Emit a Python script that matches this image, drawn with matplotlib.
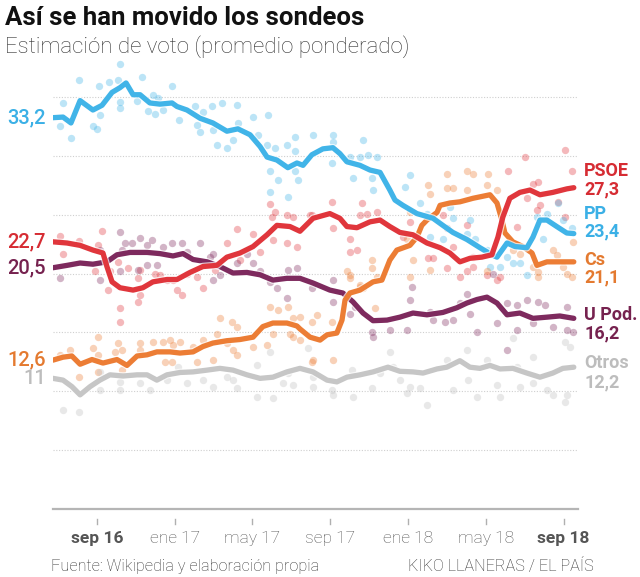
import matplotlib.pyplot as plt
import matplotlib.patheffects as pe

plt.rcParams['font.family'] = ['Roboto', 'DejaVu Sans']

# fechas en años decimales, estimación de voto en %
# promedio ponderado por partido
psoe_media = [(2016.479, 22.7), (2016.539, 22.6), (2016.595, 22.4), (2016.650, 22.0), (2016.693, 21.75),
              (2016.710, 20.6), (2016.732, 19.3), (2016.766, 18.8), (2016.822, 18.6), (2016.864, 18.8),
              (2016.907, 19.3), (2016.967, 19.5), (2017.010, 19.5), (2017.066, 20.1), (2017.121, 20.6),
              (2017.181, 20.7), (2017.224, 21.4), (2017.280, 21.75), (2017.336, 22.3), (2017.396, 23.3),
              (2017.438, 24.1), (2017.494, 24.0), (2017.537, 23.6), (2017.593, 24.7), (2017.665, 25.1),
              (2017.708, 24.7), (2017.738, 24.0), (2017.781, 23.9), (2017.837, 24.4), (2017.880, 24.55),
              (2017.922, 24.0), (2017.965, 23.5), (2018.021, 23.3), (2018.081, 22.6), (2018.137, 22.2),
              (2018.179, 21.75), (2018.222, 21.0), (2018.265, 21.3), (2018.316, 21.4), (2018.359, 21.6),
              (2018.385, 23.1), (2018.406, 24.8), (2018.436, 26.4), (2018.479, 26.9), (2018.522, 27.1),
              (2018.565, 26.7), (2018.620, 26.9), (2018.680, 27.2), (2018.710, 27.3)]

pp_media = [(2016.479, 33.25), (2016.522, 33.3), (2016.556, 32.8), (2016.595, 34.7), (2016.650, 33.9),
            (2016.689, 34.3), (2016.732, 35.4), (2016.766, 35.8), (2016.792, 36.2), (2016.822, 35.2),
            (2016.852, 35.2), (2016.894, 34.5), (2016.937, 34.4), (2016.989, 34.5), (2017.010, 34.2),
            (2017.053, 33.9), (2017.109, 33.2), (2017.164, 32.8), (2017.224, 32.1), (2017.271, 32.3),
            (2017.323, 31.8), (2017.366, 30.8), (2017.396, 29.9), (2017.438, 29.65), (2017.485, 29.0),
            (2017.524, 29.4), (2017.550, 29.2), (2017.588, 30.1), (2017.635, 30.6), (2017.678, 30.7),
            (2017.708, 30.2), (2017.738, 29.5), (2017.794, 29.2), (2017.837, 28.8), (2017.880, 28.6),
            (2017.922, 27.1), (2017.944, 26.25), (2017.978, 25.8), (2018.038, 25.1), (2018.107, 24.7),
            (2018.149, 24.1), (2018.192, 23.5), (2018.252, 22.9), (2018.308, 22.2), (2018.359, 21.6),
            (2018.381, 21.4), (2018.424, 22.6), (2018.458, 22.3), (2018.509, 22.2), (2018.535, 23.1),
            (2018.565, 24.55), (2018.595, 24.55), (2018.637, 24.0), (2018.680, 23.45), (2018.710, 23.4)]

cs_media = [(2016.479, 12.65), (2016.522, 12.9), (2016.560, 13.0), (2016.595, 12.3), (2016.646, 12.7),
            (2016.693, 12.4), (2016.753, 12.7), (2016.796, 12.2), (2016.839, 13.0), (2016.882, 13.1),
            (2016.924, 13.35), (2016.980, 13.35), (2017.023, 13.25), (2017.079, 13.35), (2017.121, 13.8),
            (2017.164, 14.1), (2017.224, 14.3), (2017.280, 14.4), (2017.336, 14.6), (2017.378, 15.5),
            (2017.421, 15.8), (2017.481, 15.8), (2017.524, 15.55), (2017.537, 15.3), (2017.580, 14.6),
            (2017.623, 14.35), (2017.653, 14.8), (2017.695, 14.95), (2017.717, 16.05), (2017.730, 17.75),
            (2017.751, 18.35), (2017.794, 18.6), (2017.850, 19.3), (2017.888, 19.45), (2017.922, 21.15),
            (2017.952, 22.0), (2018.008, 22.4), (2018.038, 23.1), (2018.059, 24.1), (2018.081, 24.55),
            (2018.124, 25.2), (2018.137, 25.8), (2018.179, 26.0), (2018.222, 26.1), (2018.278, 26.4),
            (2018.351, 26.7), (2018.381, 26.0), (2018.402, 24.55), (2018.415, 23.45), (2018.449, 22.7),
            (2018.492, 22.3), (2018.531, 21.75), (2018.552, 20.7), (2018.595, 21.0), (2018.650, 21.0),
            (2018.710, 21.0)]

up_media = [(2016.479, 20.5), (2016.539, 20.7), (2016.595, 20.9), (2016.650, 20.8), (2016.710, 21.0),
            (2016.753, 21.6), (2016.809, 21.8), (2016.882, 21.8), (2016.937, 21.7), (2016.993, 21.5),
            (2017.036, 21.7), (2017.079, 21.2), (2017.139, 21.0), (2017.194, 20.6), (2017.250, 20.05),
            (2017.310, 20.1), (2017.366, 19.9), (2017.421, 19.45), (2017.481, 19.6), (2017.537, 19.6),
            (2017.593, 19.2), (2017.665, 18.6), (2017.721, 18.35), (2017.764, 17.6), (2017.807, 16.65),
            (2017.850, 16.0), (2017.910, 16.05), (2017.965, 16.3), (2018.021, 16.65), (2018.081, 16.5),
            (2018.149, 16.7), (2018.209, 17.1), (2018.252, 17.5), (2018.295, 17.8), (2018.338, 18.0),
            (2018.381, 17.5), (2018.424, 16.5), (2018.479, 16.65), (2018.535, 16.2), (2018.595, 16.3),
            (2018.650, 16.4), (2018.710, 16.2)]

otros_media = [(2016.479, 11.1), (2016.522, 10.95), (2016.560, 10.4), (2016.595, 9.7), (2016.638, 10.4),
               (2016.680, 10.95), (2016.723, 11.4), (2016.779, 11.3), (2016.839, 11.4), (2016.882, 11.4),
               (2016.924, 10.95), (2016.967, 11.4), (2017.023, 11.6), (2017.079, 11.65), (2017.139, 11.8),
               (2017.194, 11.95), (2017.250, 11.8), (2017.310, 11.4), (2017.366, 11.1), (2017.421, 11.2),
               (2017.481, 11.65), (2017.537, 11.95), (2017.593, 11.65), (2017.653, 10.95), (2017.695, 10.8),
               (2017.738, 11.2), (2017.794, 11.4), (2017.850, 11.65), (2017.914, 12.05), (2017.965, 11.7),
               (2018.021, 11.65), (2018.064, 11.55), (2018.124, 11.9), (2018.166, 12.05), (2018.222, 12.6),
               (2018.265, 12.05), (2018.308, 11.95), (2018.351, 12.2), (2018.394, 11.9), (2018.449, 11.95),
               (2018.509, 11.55), (2018.565, 11.2), (2018.620, 11.55), (2018.663, 11.95), (2018.710, 12.05)]

# sondeos individuales
psoe_sondeos = [(2016.509, 23.2), (2016.689, 23.65), (2016.590, 22.8), (2016.672, 22.4), (2016.522, 21.7),
                (2016.723, 20.2), (2016.757, 21.0), (2016.800, 20.45), (2016.852, 20.3), (2016.843, 19.6),
                (2016.715, 18.6), (2016.766, 17.05), (2016.766, 15.9), (2016.843, 17.6), (2016.852, 18.2),
                (2016.916, 20.0), (2016.937, 19.9), (2016.967, 19.45), (2016.993, 19.45), (2017.010, 18.6),
                (2017.032, 18.2), (2017.053, 20.0), (2017.096, 19.75), (2017.121, 18.8), (2017.173, 20.3),
                (2017.224, 22.6), (2017.267, 23.8), (2017.280, 21.15), (2017.336, 23.4), (2017.366, 21.85),
                (2017.408, 25.9), (2017.417, 24.8), (2017.430, 25.25), (2017.481, 25.0), (2017.507, 24.8),
                (2017.481, 22.6), (2017.524, 22.3), (2017.421, 22.85), (2017.580, 25.0), (2016.659, 20.2),
                (2017.674, 26.1), (2017.802, 26.0), (2017.588, 25.0), (2017.678, 23.85), (2017.751, 22.9),
                (2017.781, 22.0), (2017.751, 21.85), (2017.824, 25.1), (2017.867, 25.25), (2017.794, 25.0),
                (2017.978, 23.1), (2018.008, 24.4), (2018.085, 21.3), (2018.107, 21.3), (2018.166, 20.45),
                (2018.192, 22.3), (2018.222, 19.75), (2018.252, 20.2), (2018.278, 20.6), (2018.338, 19.9),
                (2018.381, 19.45), (2018.394, 19.75), (2018.278, 21.45), (2018.501, 29.9), (2018.672, 30.5),
                (2018.702, 28.7), (2018.428, 28.7), (2018.535, 27.65), (2018.556, 27.8), (2018.509, 26.4),
                (2018.552, 25.4), (2018.565, 25.85), (2018.642, 26.1), (2018.466, 24.0), (2018.672, 24.8),
                (2018.252, 24.1), (2018.149, 25.0), (2018.166, 23.9)]

pp_sondeos = [(2016.766, 37.8), (2016.590, 36.45), (2016.860, 36.7), (2016.989, 35.97), (2016.676, 35.9),
              (2016.719, 36.3), (2016.757, 36.45), (2016.522, 34.5), (2016.509, 32.5), (2016.556, 31.55),
              (2016.680, 33.5), (2016.650, 32.5), (2016.667, 32.3), (2016.766, 34.6), (2016.766, 34.05),
              (2016.839, 34.7), (2016.907, 35.2), (2016.929, 34.95), (2016.886, 33.8), (2016.916, 33.6),
              (2016.950, 33.9), (2017.019, 33.05), (2017.087, 34.2), (2017.096, 32.6), (2017.109, 32.05),
              (2017.121, 33.7), (2017.160, 34.2), (2017.203, 34.5), (2017.164, 32.2), (2017.181, 30.9),
              (2017.224, 30.65), (2017.250, 31.35), (2017.267, 34.3), (2017.271, 32.8), (2017.336, 33.3),
              (2017.400, 33.5), (2017.357, 31.8), (2017.396, 30.9), (2017.430, 30.65), (2017.481, 30.9),
              (2017.515, 31.65), (2017.515, 30.4), (2017.408, 28.7), (2017.443, 27.95), (2017.515, 28.7),
              (2017.528, 27.95), (2017.408, 26.95), (2017.485, 26.55), (2017.593, 31.8), (2017.678, 31.2),
              (2017.751, 29.9), (2017.794, 29.9), (2017.828, 30.05), (2017.867, 29.9), (2017.674, 29.4),
              (2017.764, 28.1), (2017.845, 28.1), (2017.850, 27.1), (2018.008, 28.4), (2017.987, 27.4),
              (2018.051, 26.0), (2018.081, 25.1), (2018.166, 23.85), (2018.192, 24.7), (2018.265, 24.55),
              (2018.094, 23.1), (2018.149, 22.9), (2018.252, 23.4), (2018.286, 22.9), (2018.338, 22.0),
              (2018.351, 20.6), (2018.394, 20.6), (2018.449, 20.9), (2018.479, 20.9), (2018.509, 19.9),
              (2018.424, 21.45), (2018.578, 22.9), (2018.595, 25.1), (2018.642, 26.0), (2018.663, 24.55),
              (2018.702, 23.85), (2018.552, 24.8), (2018.179, 25.7), (2017.678, 31.8), (2017.807, 31.35)]

cs_sondeos = [(2016.509, 13.1), (2016.552, 13.5), (2016.672, 14.65), (2016.650, 13.65), (2016.672, 13.1),
              (2016.590, 11.2), (2016.745, 13.35), (2016.775, 13.5), (2016.757, 14.1), (2016.852, 14.1),
              (2016.907, 14.2), (2016.950, 14.2), (2016.980, 14.35), (2016.993, 13.9), (2016.852, 13.5),
              (2016.959, 12.5), (2016.989, 12.5), (2016.775, 11.8), (2016.672, 11.65), (2017.023, 14.2),
              (2017.079, 13.8), (2017.121, 14.35), (2017.181, 14.9), (2017.194, 16.2), (2017.246, 15.9),
              (2017.267, 15.5), (2017.224, 14.1), (2017.250, 13.5), (2017.267, 13.1), (2017.164, 12.65),
              (2017.096, 12.5), (2017.336, 13.8), (2017.396, 13.9), (2017.408, 17.2), (2017.443, 16.9),
              (2017.485, 17.2), (2017.507, 16.2), (2017.537, 16.35), (2017.421, 14.9), (2017.494, 14.9),
              (2017.507, 14.65), (2017.610, 16.5), (2017.588, 12.5), (2017.537, 14.35), (2017.588, 15.9),
              (2017.674, 15.9), (2017.593, 12.65), (2017.678, 12.65), (2017.751, 19.6), (2017.794, 19.05),
              (2017.807, 18.75), (2017.858, 17.05), (2017.738, 20.2), (2018.085, 27.5), (2018.166, 28.5),
              (2018.252, 28.7), (2018.278, 28.5), (2018.342, 28.5), (2018.166, 27.25), (2018.192, 27.25),
              (2018.252, 27.1), (2018.338, 27.5), (2018.381, 27.1), (2018.094, 26.8), (2018.008, 25.25),
              (2017.995, 22.9), (2018.021, 21.15), (2018.094, 20.3), (2018.008, 19.75), (2017.845, 21.15),
              (2017.845, 20.45), (2017.867, 19.75), (2018.449, 22.0), (2018.479, 21.7), (2018.338, 20.2),
              (2018.535, 20.6), (2018.556, 20.15), (2018.556, 19.75), (2018.620, 22.0), (2018.637, 21.6),
              (2018.663, 20.6), (2018.680, 20.0), (2018.702, 19.75), (2018.706, 22.7), (2017.751, 19.9),
              (2017.794, 18.9)]

up_sondeos = [(2016.766, 23.5), (2016.680, 22.0), (2016.775, 22.0), (2016.787, 22.6), (2016.817, 22.6),
              (2016.852, 23.0), (2016.882, 22.4), (2016.903, 22.85), (2016.950, 22.3), (2016.989, 22.6),
              (2017.032, 22.6), (2017.109, 22.6), (2017.053, 21.85), (2017.164, 21.7), (2017.151, 21.45),
              (2016.509, 19.6), (2016.680, 19.45), (2016.882, 20.7), (2016.843, 20.3), (2016.924, 20.7),
              (2016.766, 20.2), (2017.164, 19.45), (2017.194, 19.9), (2017.267, 20.9), (2017.310, 21.7),
              (2017.336, 20.9), (2017.366, 20.2), (2017.408, 19.3), (2017.438, 18.75), (2017.481, 17.9),
              (2017.485, 20.3), (2017.524, 20.45), (2017.588, 18.75), (2017.678, 19.45), (2017.678, 17.6),
              (2017.751, 16.6), (2017.772, 17.2), (2017.845, 15.05), (2017.850, 14.65), (2017.995, 15.2),
              (2018.017, 18.9), (2018.008, 17.75), (2018.094, 16.75), (2018.107, 16.05), (2018.158, 15.9),
              (2018.192, 16.05), (2018.222, 17.5), (2018.252, 18.3), (2018.265, 16.6), (2018.364, 19.95),
              (2018.381, 15.8), (2018.424, 17.5), (2018.466, 17.35), (2018.509, 17.75), (2018.535, 15.8),
              (2018.556, 17.6), (2018.586, 17.35), (2018.620, 15.5), (2018.680, 17.2), (2018.680, 15.2),
              (2018.706, 15.05), (2018.424, 13.5), (2017.922, 15.2), (2018.295, 15.05), (2018.466, 15.2)]

otros_sondeos = [(2016.522, 8.45), (2016.590, 8.2), (2016.680, 11.65), (2016.680, 10.1), (2016.766, 10.8),
                 (2016.766, 10.1), (2016.852, 10.7), (2016.894, 10.1), (2016.967, 10.95), (2017.014, 12.1),
                 (2017.053, 10.7), (2017.121, 10.95), (2017.164, 10.4), (2017.224, 11.25), (2017.250, 10.95),
                 (2017.267, 10.25), (2017.353, 12.25), (2017.408, 13.35), (2017.353, 9.55), (2017.421, 9.4),
                 (2017.464, 10.7), (2017.507, 10.55), (2017.485, 11.55), (2017.571, 13.65), (2017.593, 11.25),
                 (2017.674, 10.1), (2017.760, 11.8), (2017.764, 9.55), (2017.845, 10.25), (2017.922, 13.35),
                 (2017.935, 12.1), (2017.965, 10.95), (2017.995, 9.85), (2018.008, 10.4), (2018.051, 10.25),
                 (2018.081, 8.85), (2018.166, 12.65), (2018.252, 13.5), (2018.256, 10.95), (2018.338, 12.65),
                 (2018.381, 10.55), (2018.449, 14.5), (2018.466, 12.1), (2018.479, 10.4), (2018.535, 10.7),
                 (2018.535, 12.95), (2018.595, 10.1), (2018.620, 9.7), (2018.672, 14.2), (2018.693, 13.8),
                 (2018.680, 9.7), (2018.672, 9.1), (2018.394, 9.55), (2018.295, 9.55), (2018.192, 10.1),
                 (2017.880, 11.55), (2017.678, 9.7), (2017.593, 10.4)]

partidos = ['PSOE', 'PP', 'Cs', 'U Pod.', 'Otros']
medias = [psoe_media, pp_media, cs_media, up_media, otros_media]
sondeos = [psoe_sondeos, pp_sondeos, cs_sondeos, up_sondeos, otros_sondeos]
valor_inicio = ['22,7', '33,2', '12,6', '20,5', '11']
valor_final = ['27,3', '23,4', '21,1', '16,2', '12,2']

colores = ['#e0363c', '#41b4e8', '#ec7d35', '#7e2a5e', '#c6c6c6']
colores_texto = ['#d62c33', '#3bb0e6', '#e47a30', '#76224f', '#bdbdbd']
alfa_puntos = [0.35, 0.35, 0.35, 0.35, 0.4]

# desplazamiento (px) de nombre y valor respecto al final de la línea
desp_final = [(-17, 2), (-20, -2), (-2, 16), (-3, 15), (-4, 15)]

meses = [(2016, 9), (2017, 1), (2017, 5), (2017, 9), (2018, 1), (2018, 5), (2018, 9)]
meses_txt = ['sep 16', 'ene 17', 'may 17', 'sep 17', 'ene 18', 'may 18', 'sep 18']

W, H = 640, 577
fig = plt.figure(figsize=(W / 100, H / 100), dpi=100)
ax = fig.add_axes([53 / W, (H - 509) / H, 525 / W, 449 / H])
ax.set_xlim(2016.479, 2018.728)
ax.set_ylim(0, 38.15)

ax.set_yticks(range(5, 40, 5))
ax.yaxis.grid(True, color='#cfcfcf', linestyle=(0, (1, 1.5)), linewidth=0.8)
ax.tick_params(axis='y', length=0, labelleft=False)
for s in ['top', 'left', 'right']:
    ax.spines[s].set_visible(False)
ax.spines['bottom'].set_color('#b5b5b5')
ax.spines['bottom'].set_linewidth(1.6)
ax.set_axisbelow(True)

ticks = [y + (m - 1) / 12 for y, m in meses]
ax.set_xticks(ticks, meses_txt)
ax.tick_params(axis='x', length=0, pad=16, labelsize=12.5, labelcolor='#555555')
for i, lab in enumerate(ax.get_xticklabels()):
    lab.set_fontweight('bold' if i in (0, len(ticks) - 1) else 'light')
for t in ticks:
    ax.plot([t, t], [-10 / 449, -15 / 449], transform=ax.get_xaxis_transform(),
            color='#b0b0b0', lw=1, clip_on=False)

# puntos de sondeos
for pts, c, a in zip(sondeos, colores, alfa_puntos):
    xs = [p[0] for p in pts]
    ys = [p[1] for p in pts]
    ax.scatter(xs, ys, s=28, color=c, alpha=a, linewidths=0, zorder=2)

# promedios
halo = [pe.Stroke(linewidth=5.5, foreground='white', alpha=0.7), pe.Normal()]
for i in [4, 3, 2, 1, 0]:
    xs = [p[0] for p in medias[i]]
    ys = [p[1] for p in medias[i]]
    ax.plot(xs, ys, color=colores[i], lw=3.8, solid_capstyle='round',
            solid_joinstyle='round', path_effects=halo, zorder=3 + (4 - i))

# etiquetas
for i in range(len(partidos)):
    x0, y0 = medias[i][0]
    x1, y1 = medias[i][-1]
    ax.annotate(valor_inicio[i], (x0, y0), xytext=(-5, 0), textcoords='offset points',
                ha='right', va='center', fontsize=14.5, color=colores_texto[i],
                fontweight='medium', annotation_clip=False)
    dn, dv = desp_final[i]
    ax.annotate(partidos[i], (x1, y1), xytext=(7.5, -dn / 1.389), textcoords='offset points',
                ha='left', va='center', fontsize=13, color=colores_texto[i],
                fontweight='bold', annotation_clip=False)
    ax.annotate(valor_final[i], (x1, y1), xytext=(7.5, -dv / 1.389), textcoords='offset points',
                ha='left', va='center', fontsize=13, color=colores_texto[i],
                fontweight='bold', annotation_clip=False)

fig.text(5 / W, 1 - 18 / H, 'Así se han movido los sondeos', fontsize=18.5,
         fontweight='bold', color='#111111', va='center', ha='left')
fig.text(5 / W, 1 - 47 / H, 'Estimación de voto (promedio ponderado)', fontsize=16,
         fontweight='light', color='#333333', va='center', ha='left')
fig.text(51 / W, 1 - 566 / H, 'Fuente: Wikipedia y elaboración propia', fontsize=11.7,
         fontweight='light', color='#333333', va='center', ha='left')
fig.text(594 / W, 1 - 566 / H, 'KIKO LLANERAS / EL PAÍS', fontsize=11.7,
         fontweight='light', color='#333333', va='center', ha='right')

fig.savefig('out.png', dpi=100, facecolor='white')
